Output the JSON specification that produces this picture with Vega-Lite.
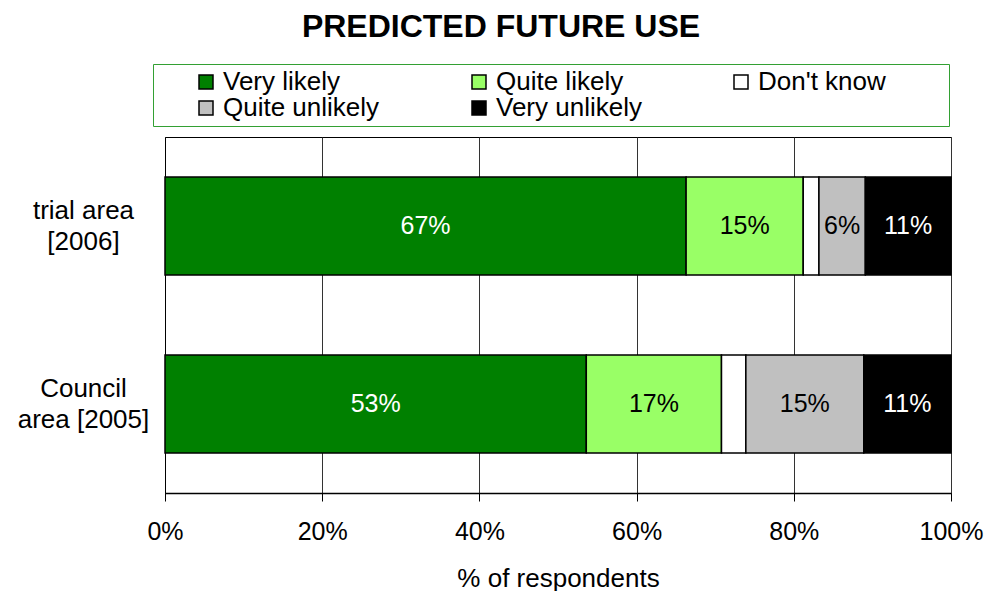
{
  "$schema": "https://vega.github.io/schema/vega-lite/v6.json",
  "width": 786,
  "height": 356,
  "autosize": "none",
  "padding": {"left": 165, "top": 137, "right": 38, "bottom": 98},
  "background": "white",
  "config": {
    "font": "Liberation Sans",
    "view": {"stroke": "black", "strokeWidth": 1}
  },
  "title": {
    "text": "PREDICTED FUTURE USE",
    "fontSize": 32,
    "fontWeight": "bold",
    "font": "Liberation Sans",
    "color": "black",
    "anchor": "middle",
    "baseline": "alphabetic",
    "dx": -57,
    "offset": -5
  },
  "data": {
    "values": [
      {"area": "trial area [2006]", "response": "Very likely", "value": 66.3, "label": "67%"},
      {"area": "trial area [2006]", "response": "Quite likely", "value": 14.9, "label": "15%"},
      {"area": "trial area [2006]", "response": "Don't know", "value": 2.0, "label": ""},
      {"area": "trial area [2006]", "response": "Quite unlikely", "value": 5.9, "label": "6%"},
      {"area": "trial area [2006]", "response": "Very unlikely", "value": 10.9, "label": "11%"},
      {"area": "Council area [2005]", "response": "Very likely", "value": 53.6, "label": "53%"},
      {"area": "Council area [2005]", "response": "Quite likely", "value": 17.2, "label": "17%"},
      {"area": "Council area [2005]", "response": "Don't know", "value": 3.1, "label": ""},
      {"area": "Council area [2005]", "response": "Quite unlikely", "value": 15.0, "label": "15%"},
      {"area": "Council area [2005]", "response": "Very unlikely", "value": 11.1, "label": "11%"}
    ]
  },
  "transform": [
    {"calculate": "indexof(['Very likely','Quite likely',\"Don't know\",'Quite unlikely','Very unlikely'], datum.response)", "as": "order"},
    {"stack": "value", "groupby": ["area"], "sort": [{"field": "order", "order": "ascending"}], "as": ["x0", "x1"]},
    {"calculate": "(datum.x0 + datum.x1) / 2", "as": "xmid"}
  ],
  "encoding": {
    "y": {
      "field": "area",
      "type": "nominal",
      "sort": ["trial area [2006]", "Council area [2005]"],
      "scale": {"paddingInner": 0.45, "paddingOuter": 0.225},
      "axis": {
        "title": null,
        "ticks": false,
        "domain": true,
        "domainColor": "black",
        "labelAlign": "center",
        "labelBaseline": "middle",
        "labelPadding": 82,
        "labelOffset": -15,
        "labelFontSize": 26,
        "labelLineHeight": 31,
        "labelColor": "black",
        "labelExpr": "datum.value == 'trial area [2006]' ? ['trial area', '[2006]'] : ['Council', 'area [2005]']"
      }
    }
  },
  "layer": [
    {
      "mark": {"type": "bar", "stroke": "black", "strokeWidth": 1.5},
      "encoding": {
        "x": {
          "field": "x0",
          "type": "quantitative",
          "scale": {"domain": [0, 100], "nice": false},
          "axis": {
            "title": "% of respondents",
            "values": [0, 20, 40, 60, 80, 100],
            "labelExpr": "datum.value + '%'",
            "grid": true,
            "gridColor": "#333333",
            "gridWidth": 1,
            "domainColor": "black",
            "domainWidth": 1.5,
            "tickColor": "black",
            "tickSize": 8,
            "labelFontSize": 25,
            "titleFontSize": 26,
            "titleFontWeight": "normal",
            "labelColor": "black",
            "titleColor": "black",
            "labelPadding": 18,
            "titlePadding": 21,
            "labelFlush": false,
            "labelOverlap": false
          }
        },
        "x2": {"field": "x1"},
        "fill": {
          "field": "response",
          "type": "nominal",
          "scale": {
            "domain": ["Very likely", "Quite likely", "Don't know", "Quite unlikely", "Very unlikely"],
            "range": ["#008000", "#99ff66", "#ffffff", "#c0c0c0", "#000000"]
          },
          "legend": {
            "orient": "none",
            "legendX": -12,
            "legendY": -73,
            "direction": "horizontal",
            "columns": 3,
            "gridAlign": "each",
            "title": null,
            "strokeColor": "#33a033",
            "fillColor": "white",
            "padding": 5,
            "symbolType": "square",
            "symbolSize": 196,
            "symbolStrokeColor": "black",
            "symbolStrokeWidth": 1.5,
            "symbolOpacity": 1,
            "labelFontSize": 26,
            "labelColor": "black",
            "labelOffset": 4,
            "labelLimit": 400,
            "labelExpr": "datum.label == \"Don't know\" ? datum.label + '        \u200c' : datum.label",
            "columnPadding": 51,
            "rowPadding": 0,
            "symbolOffset": 35
          }
        }
      }
    },
    {
      "transform": [{"filter": "datum.label != ''"}],
      "mark": {"type": "text", "fontSize": 25, "baseline": "middle", "align": "center"},
      "encoding": {
        "x": {"field": "xmid", "type": "quantitative"},
        "text": {"field": "label"},
        "color": {
          "condition": {"test": "datum.response == 'Very likely' || datum.response == 'Very unlikely'", "value": "white"},
          "value": "black"
        }
      }
    }
  ]
}
